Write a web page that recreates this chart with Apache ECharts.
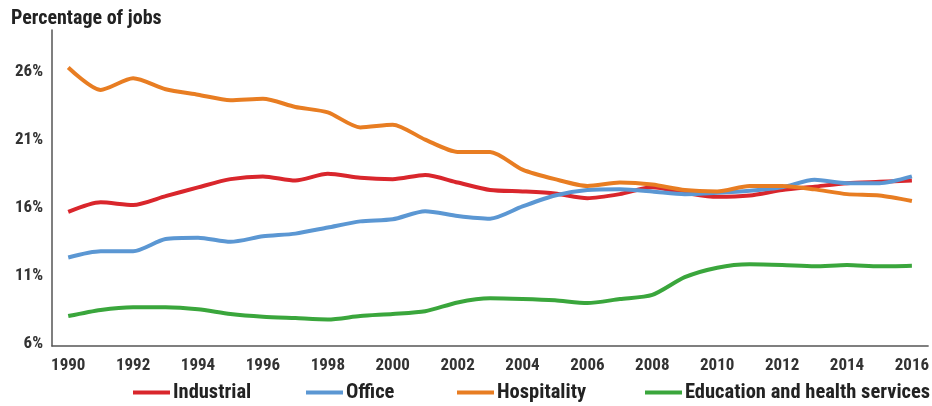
<!DOCTYPE html>
<html><head><meta charset="utf-8">
<script src="https://cdn.jsdelivr.net/npm/echarts@6/dist/echarts.min.js"></script>
<style>html,body{margin:0;padding:0;background:#fff}#c{width:932px;height:406px}</style>
</head><body><div id="c"></div>
<script>
const years = ['1990','1991','1992','1993','1994','1995','1996','1997','1998','1999','2000','2001','2002','2003','2004','2005','2006','2007','2008','2009','2010','2011','2012','2013','2014','2015','2016'];
const industrial = [15.7,16.4,16.2,16.85,17.5,18.1,18.3,18.0,18.5,18.2,18.1,18.4,17.85,17.3,17.2,17.05,16.7,17.0,17.5,17.1,16.8,16.9,17.3,17.55,17.8,17.9,18.0];
const office = [12.35,12.8,12.8,13.7,13.8,13.5,13.9,14.1,14.55,15.0,15.15,15.75,15.4,15.2,16.1,16.9,17.3,17.35,17.2,17.0,17.1,17.25,17.5,18.05,17.8,17.8,18.3];
const hospitality = [26.3,24.65,25.5,24.7,24.3,23.9,24.0,23.4,23.0,21.9,22.1,21.0,20.1,20.1,18.8,18.1,17.6,17.85,17.7,17.3,17.2,17.6,17.6,17.35,17.0,16.9,16.5];
const education = [8.05,8.5,8.7,8.7,8.55,8.2,8.0,7.9,7.8,8.05,8.2,8.4,9.05,9.35,9.3,9.2,9.0,9.3,9.6,10.9,11.6,11.85,11.8,11.7,11.8,11.7,11.75];
const yTicks = [6,11,16,21,26];

const FONT = "'Roboto Condensed','Liberation Sans',sans-serif";
const colors = {Industrial:'#d9262c', Office:'#5b97d3', Hospitality:'#e87d22', 'Education and health services':'#3aa63c'};
const chart = echarts.init(document.getElementById('c'));
function mk(name, data){
  return {name, type:'line', data, smooth:0.25, symbol:'none',
    lineStyle:{width:4, color:colors[name]}, itemStyle:{color:colors[name]}};
}
function lg(name, left){
  return {data:[name], left, top:382, itemWidth:37, itemHeight:4, icon:'rect', itemGap:0, padding:0,
    textStyle:{fontFamily:FONT, fontSize:20.5, fontWeight:'bold', color:'#222', padding:[0,0,0,-2]}};
}
chart.setOption({
  animation:false,
  title:{text:'Percentage of jobs', left:11, top:9, padding:0, textStyle:{fontFamily:FONT, fontSize:20, fontWeight:'bold', color:'#222'}},
  legend:[lg('Industrial',133), lg('Office',306), lg('Hospitality',457), lg('Education and health services',645)],
  grid:{left:52, right:0, top:30, bottom:60},
  xAxis:{type:'category', data:years, boundaryGap:true,
    axisLine:{lineStyle:{color:'#555', width:1.5}}, axisTick:{show:false},
    axisLabel:{interval:1, fontFamily:FONT, fontSize:17, fontWeight:'bold', color:'#333', margin:11}},
  yAxis:{type:'value', min:5.85, max:29.05,
    axisLine:{show:true, lineStyle:{color:'#555', width:1.5}}, axisTick:{show:false}, splitLine:{show:false},
    axisLabel:{customValues:yTicks, formatter:v=>v+'%', fontFamily:FONT, fontSize:17, fontWeight:'bold', color:'#333', margin:9}},
  series:[mk('Industrial',industrial), mk('Office',office), mk('Hospitality',hospitality), mk('Education and health services',education)]
});
</script></body></html>
